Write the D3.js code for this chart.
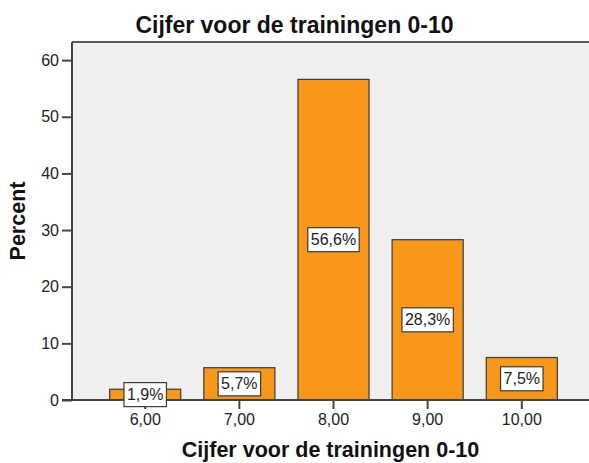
<!DOCTYPE html>
<html lang="nl">
<head>
  <meta charset="UTF-8">
  <title>Cijfer voor de trainingen 0-10</title>
  <script src="https://d3js.org/d3.v7.min.js"></script>
  <style>
    body { margin: 0; background: #fff; }
    text { font-family: "Liberation Sans", Arial, sans-serif; fill: #111; }
    .bar { fill: #f7981d; stroke: #3a3a3a; stroke-width: 1.2; }
    .lbl-box { fill: #fff; stroke: #3a3a3a; stroke-width: 1.2; }
    .tick-label { font-size: 16px; fill: #222; }
    .title { font-size: 23px; font-weight: bold; }
    .axis-title { font-size: 21.5px; font-weight: bold; }
  </style>
</head>
<body>
<svg id="chart" width="589" height="463"></svg>
<script>
// categories and values (percent)
const categories = ['6,00', '7,00', '8,00', '9,00', '10,00'];
const percents = [1.9, 5.7, 56.6, 28.3, 7.5];
const yTicks = [0, 10, 20, 30, 40, 50, 60];

const width = 589, height = 463;
const mLeft = 72, mRight = 589, mTop = 42, mBottom = 400;

const svg = d3.select('#chart');

// plot background
svg.append('rect')
  .attr('x', mLeft).attr('y', mTop)
  .attr('width', mRight - mLeft).attr('height', mBottom - mTop)
  .attr('fill', '#efefef');

// top frame line
svg.append('line')
  .attr('x1', mLeft).attr('x2', mRight)
  .attr('y1', mTop).attr('y2', mTop)
  .attr('stroke', '#555').attr('stroke-width', 2);

const x = d3.scaleBand()
  .domain(categories)
  .range([mLeft, 595])
  .paddingInner(0.245)
  .paddingOuter(0.4);

const y = d3.scaleLinear()
  .domain([0, 63.2])
  .range([mBottom, mTop]);

const data = categories.map((c, i) => ({ cat: c, val: percents[i] }));

// bars
svg.append('g')
  .selectAll('rect')
  .data(data)
  .join('rect')
  .attr('class', 'bar')
  .attr('x', d => x(d.cat))
  .attr('width', x.bandwidth())
  .attr('y', d => y(d.val))
  .attr('height', d => y(0) - y(d.val));

// y axis
const yAxis = svg.append('g')
  .attr('transform', `translate(${mLeft},0)`)
  .call(d3.axisLeft(y).tickValues(yTicks).tickSize(10).tickPadding(3).tickFormat(d3.format('d')));
yAxis.select('.domain').attr('stroke', '#444').attr('stroke-width', 2)
  .attr('d', `M0,${mTop}V${mBottom}`);
yAxis.selectAll('.tick line').attr('stroke', '#444').attr('stroke-width', 2);
yAxis.selectAll('.tick text').attr('class', 'tick-label');
yAxis.attr('font-family', null).attr('font-size', null);

// x axis
const xAxis = svg.append('g')
  .attr('transform', `translate(0,${mBottom})`)
  .call(d3.axisBottom(x).tickSize(9).tickPadding(5));
xAxis.select('.domain').attr('stroke', '#444').attr('stroke-width', 2)
  .attr('d', `M${mLeft - 10},0H${mRight}`);
xAxis.selectAll('.tick line').attr('stroke', '#444').attr('stroke-width', 2);
xAxis.selectAll('.tick text').attr('class', 'tick-label');
xAxis.attr('font-family', null).attr('font-size', null);

// value labels
const fmt = v => d3.format('.1f')(v).replace('.', ',') + '%';
const lbl = svg.append('g')
  .selectAll('g')
  .data(data)
  .join('g')
  .attr('transform', d => `translate(${x(d.cat) + x.bandwidth() / 2},${y(d.val / 2)})`);
lbl.append('text')
  .attr('class', 'tick-label')
  .attr('text-anchor', 'middle')
  .attr('dy', '0.35em')
  .text(d => fmt(d.val));
lbl.each(function() {
  const g = d3.select(this);
  const bb = g.select('text').node().getBBox();
  g.insert('rect', 'text')
    .attr('class', 'lbl-box')
    .attr('x', bb.x - 3).attr('y', -12)
    .attr('width', bb.width + 6).attr('height', 24);
});

// titles
svg.append('text')
  .attr('class', 'title')
  .attr('x', width / 2).attr('y', 33)
  .attr('text-anchor', 'middle')
  .text('Cijfer voor de trainingen 0-10');

svg.append('text')
  .attr('class', 'axis-title')
  .attr('x', (mLeft + mRight) / 2).attr('y', 457)
  .attr('text-anchor', 'middle')
  .text('Cijfer voor de trainingen 0-10');

svg.append('text')
  .attr('class', 'axis-title')
  .attr('transform', `translate(25,${(mTop + mBottom) / 2}) rotate(-90)`)
  .attr('text-anchor', 'middle')
  .text('Percent');
</script>
</body>
</html>
